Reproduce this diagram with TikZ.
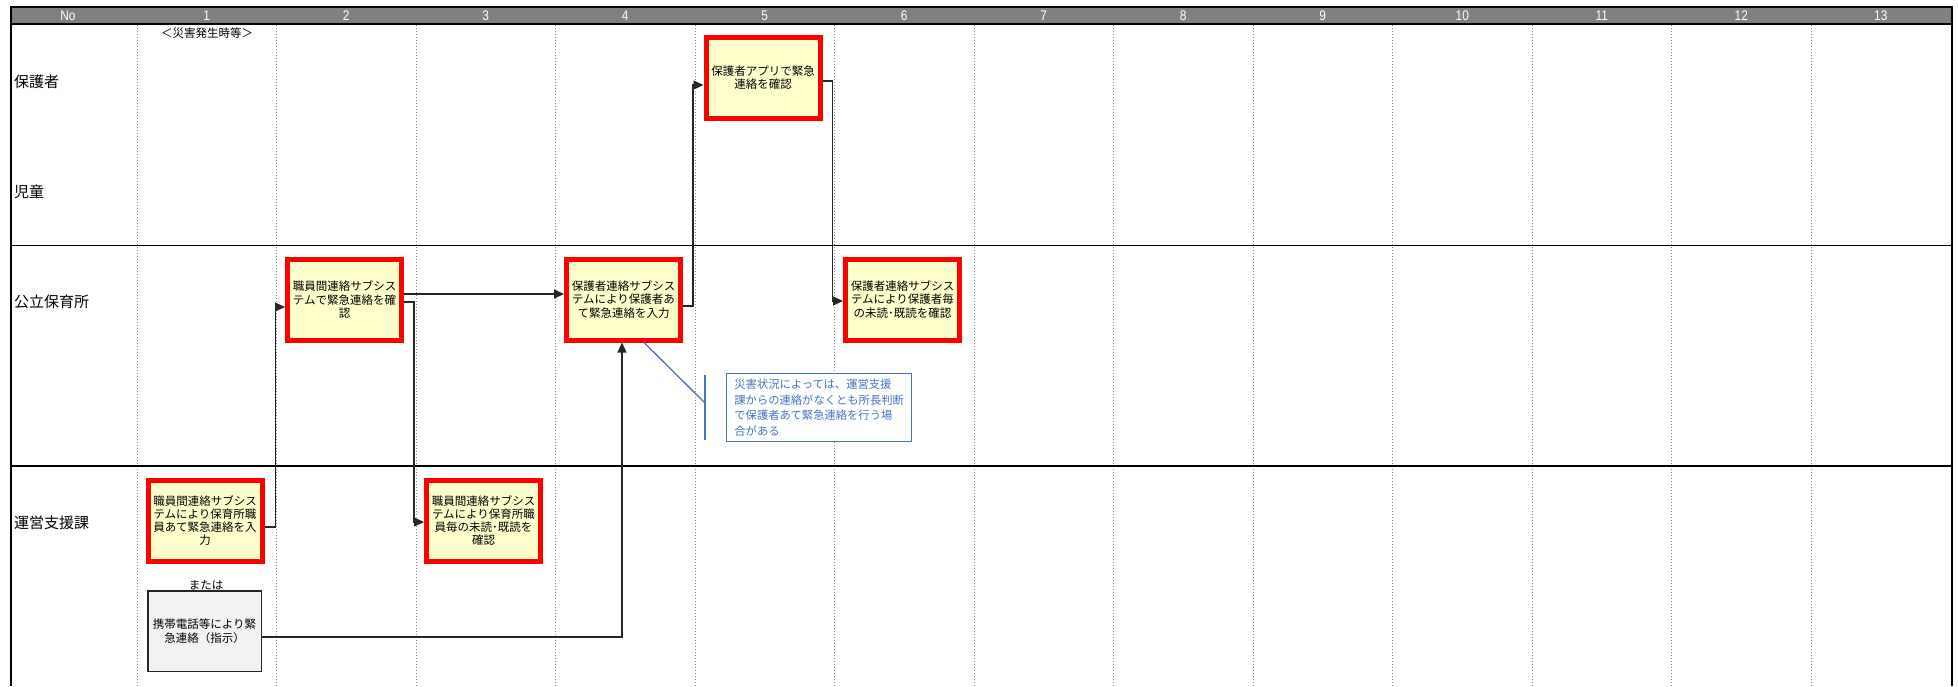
\documentclass[tikz,border=0pt]{standalone}
\usepackage{fontspec}
\setmainfont{Liberation Sans}
\newfontfamily\jp{Noto Sans CJK JP}
\newfontfamily\hdrfont[FakeStretch=0.85]{Liberation Sans}
\usetikzlibrary{arrows.meta}
\definecolor{hdrgray}{HTML}{808080}
\definecolor{boxfill}{HTML}{FFFFCC}
\definecolor{boxred}{HTML}{FF0000}
\definecolor{callblue}{HTML}{4472C4}
\definecolor{grayfill}{HTML}{F2F2F2}
\definecolor{conn}{HTML}{262626}
\definecolor{dotgray}{HTML}{8C8C8C}
\begin{document}
\begin{tikzpicture}[x=1pt,y=-1pt,
  redbox/.style={draw=boxred, line width=5pt, fill=boxfill, minimum width=114pt, minimum height=81pt,
    inner sep=0pt, align=center, text=black, font={\jp\fontsize{11.5}{13.3}\selectfont}},
  graybox/.style={draw=black!85, line width=1.5pt, fill=grayfill, minimum width=113.5pt, minimum height=80.5pt,
    inner sep=0pt, align=center, text=black, font={\jp\fontsize{11.5}{14.5}\selectfont}},
  callbox/.style={draw=callblue, line width=1.3pt, fill=white, text=callblue, align=left,
    minimum width=185pt, minimum height=68pt, inner xsep=7pt, inner ysep=3pt,
    font={\jp\fontsize{11.3}{15.5}\selectfont}},
  callline/.style={draw=callblue, line width=1.3pt},
  arr/.style={draw=conn, line width=1.2pt, -{Triangle[length=10pt,width=9pt]}},
  lanelabel/.style={anchor=west, inner sep=0pt, text=black, font={\jp\fontsize{15}{15}\selectfont}},
  hdrlabel/.style={text=white, inner sep=0pt, font={\hdrfont\fontsize{14}{14}\selectfont}},
  plaintext/.style={inner sep=0pt, text=black, font={\jp\fontsize{11.5}{11.5}\selectfont}},
  colline/.style={draw=dotgray, line width=0.9pt, dash pattern=on 1.5pt off 1.5pt},
  laneline/.style={draw=black, line width=1.5pt},
  borderline/.style={draw=black, line width=2pt}
]
\useasboundingbox (0,0) rectangle (1958,686);
% header
\fill[hdrgray] (11,7) rectangle (1951.5,24);
\draw[laneline] (11,7) -- (1951.5,7);
\draw[laneline] (11,24) -- (1951.5,24);
\node[hdrlabel] (hno) at (68,15.5) {No};
\foreach \k in {1,...,13} {
  \node[hdrlabel] (h\k) at ({137+139.5*(\k-0.5)},15.5) {\k};
}
% column lines
\foreach \k in {0,...,12} {
  \draw[colline] ({137+139.5*\k},24.8) -- ({137+139.5*\k},686);
}
% lanes
\draw[laneline] (11,245.5) -- (1951.5,245.5);
\draw[laneline] (11,466) -- (1951.5,466);
\draw[borderline] (11,6) -- (11,686);
\draw[borderline] (1951.5,6) -- (1951.5,686);
% lane labels
\node[lanelabel] (l1) at (14,82) {保護者};
\node[lanelabel] (l2) at (14,192) {児童};
\node[lanelabel] (l3) at (14,302) {公立保育所};
\node[lanelabel] (l4) at (14,523) {運営支援課};
% texts
\node[plaintext] (title) at (207,33) {＜災害発生時等＞};
\node[plaintext] (orlabel) at (206,585) {または};
% boxes
\node[redbox] (b1) at (763,77.5) {保護者アプリで緊急\\連絡を確認};
\node[redbox] (b2) at (344.5,299.5) {職員間連絡サブシス\\テムで緊急連絡を確\\認};
\node[redbox] (b3) at (623.5,299.5) {保護者連絡サブシス\\テムにより保護者あ\\て緊急連絡を入力};
\node[redbox] (b4) at (902.5,299.5) {保護者連絡サブシス\\テムにより保護者毎\\の未読･既読を確認};
\node[redbox] (b5) at (205,520.5) {職員間連絡サブシス\\テムにより保育所職\\員あて緊急連絡を入\\力};
\node[redbox] (b6) at (483.5,520.5) {職員間連絡サブシス\\テムにより保育所職\\員毎の未読･既読を\\確認};
\node[graybox] (b7) at (204.5,631) {携帯電話等により緊\\急連絡（指示）};
% connectors
\draw[arr] ([yshift=-6.5pt]b5.east) -- ++(11,0) |- ([yshift=-7.5pt]b2.west);
\draw[arr] ([yshift=5.5pt]b2.east) -- ([yshift=5.5pt]b3.west);
\draw[arr] ([yshift=-2.5pt]b2.east) -- ++(10,0) |- ([yshift=-1.5pt]b6.west);
\draw[arr] ([yshift=-6.5pt]b3.east) -- ++(10,0) |- ([yshift=-7.5pt]b1.west);
\draw[arr] ([yshift=-3.5pt]b1.east) -- ++(10,0) |- ([yshift=-1.5pt]b4.west);
\draw[arr] ([yshift=-6pt]b7.east) -| ([xshift=-1.5pt]b3.south);
% callout
\node[callbox, anchor=north west] (note) at (726,373) {災害状況によっては、運営支援\\課からの連絡がなくとも所長判断\\で保護者あて緊急連絡を行う場\\合がある};
\coordinate (cpt) at ([xshift=20.5pt]b3.south);
\coordinate (barmid) at (705,403);
\coordinate (bartop) at (705,375);
\coordinate (barbot) at (705,440);
\draw[callline] (cpt) -- (barmid);
\draw[callline] (bartop) -- (barbot);
\end{tikzpicture}
\end{document}
